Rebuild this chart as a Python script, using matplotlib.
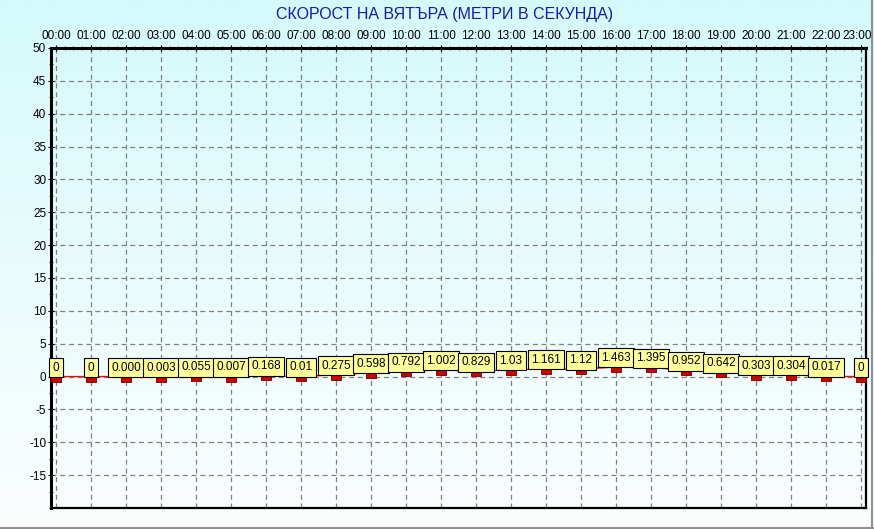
import numpy as np
import matplotlib
matplotlib.use('Agg')
import matplotlib.pyplot as plt
from matplotlib.path import Path
from matplotlib.ticker import MultipleLocator, FixedLocator
from matplotlib.transforms import ScaledTranslation

# hourly wind speed, labels exactly as shown on the chart
hours = ['00:00', '01:00', '02:00', '03:00', '04:00', '05:00', '06:00', '07:00',
         '08:00', '09:00', '10:00', '11:00', '12:00', '13:00', '14:00', '15:00',
         '16:00', '17:00', '18:00', '19:00', '20:00', '21:00', '22:00', '23:00']
speed_labels = ['0', '0', '0.000', '0.003', '0.055', '0.007', '0.168', '0.01',
                '0.275', '0.598', '0.792', '1.002', '0.829', '1.03', '1.161', '1.12',
                '1.463', '1.395', '0.952', '0.642', '0.303', '0.304', '0.017', '0']
speed = [float(s) for s in speed_labels]
y_ticks = [50, 45, 40, 35, 30, 25, 20, 15, 10, 5, 0, -5, -10, -15]

plt.rcParams['font.family'] = ['Liberation Sans', 'DejaVu Sans']
plt.rcParams['axes.unicode_minus'] = False

fig = plt.figure(figsize=(8.74, 5.29), dpi=100)

# gradient background for the whole picture
bg = fig.add_axes([0, 0, 1, 1], zorder=-10)
grad = np.linspace(0, 1, 256).reshape(-1, 1)
top_c = np.array([213, 250, 251]) / 255
bot_c = np.array([252, 254, 254]) / 255
img = top_c * (1 - grad[..., None]) + bot_c * grad[..., None]
bg.imshow(img, aspect='auto', extent=[0, 1, 0, 1])
bg.set_axis_off()
# grey frame at right and bottom
bg.plot([0.9975, 0.9975], [0.0, 1.0], color='#909090', lw=1.5)
bg.plot([0.0, 1.0], [0.0025, 0.0025], color='#909090', lw=1.5)
bg.set_xlim(0, 1)
bg.set_ylim(0, 1)

ax = fig.add_axes([0.0584, 0.0397, 0.9324, 0.8696])
ax.patch.set_visible(False)

x = np.arange(len(hours))
ax.plot(x, speed, color='#ff0000', lw=1, zorder=3)

# red rectangle markers hanging just below each value
rect = Path([(-1, 0), (1, 0), (1, -1.1), (-1, -1.1), (-1, 0)],
            [Path.MOVETO, Path.LINETO, Path.LINETO, Path.LINETO, Path.CLOSEPOLY])
ax.plot(x, speed, linestyle='none', marker=rect, markersize=7.2,
        markerfacecolor='#d00000', markeredgecolor='#700000', markeredgewidth=0.6, zorder=4)

for xi, yi, lab in zip(x, speed, speed_labels):
    ax.annotate(lab, (xi, yi), xytext=(0, 6.5), textcoords='offset points',
                ha='center', va='center', fontsize=8.5, color='black', zorder=5,
                bbox=dict(boxstyle='square,pad=0.3', fc='#ffff99', ec='black', lw=0.8))

ax.set_xlim(-0.14, 23.14)
ax.set_ylim(-20, 50)

ax.xaxis.set_major_locator(FixedLocator(x))
ax.set_xticklabels(hours)
ax.xaxis.set_minor_locator(MultipleLocator(0.25))
ax.xaxis.tick_top()
ax.set_yticks(y_ticks)
ax.yaxis.set_minor_locator(MultipleLocator(2.5))

ax.tick_params(axis='x', which='major', labelsize=8.5, direction='inout', length=5, width=0.8, pad=2)
ax.tick_params(axis='x', which='minor', direction='inout', length=3, width=0.6)
ax.tick_params(axis='y', which='major', labelsize=8.5, direction='inout', length=5, width=0.8, pad=1)
ax.tick_params(axis='y', which='minor', direction='inout', length=3, width=0.6)

# nudge the last hour label so it stays inside the picture
last = ax.get_xticklabels()[-1]
last.set_transform(last.get_transform() + ScaledTranslation(-2.5 / 72, 0, fig.dpi_scale_trans))

ax.grid(True, which='major', color='#808080', linestyle=(0, (4, 3)), linewidth=0.9)
ax.set_axisbelow(True)

for key, spine in ax.spines.items():
    spine.set_linewidth(1.6)
    spine.set_color('black')
ax.spines['left'].set_linewidth(2.2)
ax.spines['top'].set_linewidth(2.2)

fig.text(0.509, 0.972, 'СКОРОСТ НА ВЯТЪРА (МЕТРИ В СЕКУНДА)', ha='center', va='center',
         fontsize=11.5, color='#1a1aa8')

fig.savefig('out.png', dpi=100)
